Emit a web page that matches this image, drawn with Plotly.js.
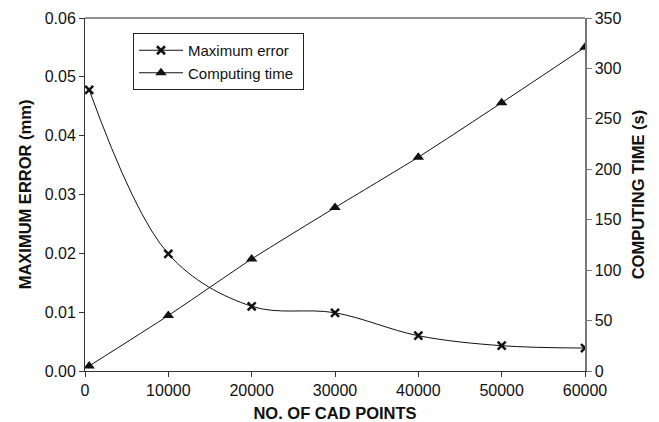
<!DOCTYPE html>
<html>
<head>
<meta charset="utf-8">
<script src="https://cdn.plot.ly/plotly-3.0.1.min.js"></script>
<style>html,body{margin:0;padding:0;background:#fff;}#chart{width:659px;height:422px;}</style>
</head>
<body>
<div id="chart"></div>
<script>
const cadPoints = [500, 10000, 20000, 30000, 40000, 50000, 60000];
const maxError = [0.0478, 0.0199, 0.0110, 0.0099, 0.0060, 0.0043, 0.0039];
const computingTime = [5, 55, 111, 162, 212, 266, 321];
const xTicks = [0, 10000, 20000, 30000, 40000, 50000, 60000];
const errTicks = [0, 0.01, 0.02, 0.03, 0.04, 0.05, 0.06];
const timeTicks = [0, 50, 100, 150, 200, 250, 300, 350];

const font = "Liberation Sans, Arial, sans-serif";
const traces = [
  {
    x: cadPoints, y: maxError, name: "Maximum error&nbsp;&nbsp;", type: "scatter", mode: "lines+markers",
    line: {color: "#111", width: 1, shape: "spline", smoothing: 1},
    marker: {symbol: "x-thin-open", size: 8, color: "#111", line: {color: "#111", width: 2.5}},
    yaxis: "y"
  },
  {
    x: cadPoints, y: computingTime, name: "Computing time", type: "scatter", mode: "lines+markers",
    line: {color: "#111", width: 1, shape: "spline", smoothing: 0.6},
    marker: {symbol: "triangle-up", size: 10, color: "#111"},
    yaxis: "y2"
  }
];

const layout = {
  width: 659, height: 422,
  margin: {l: 85, r: 74, t: 18, b: 51},
  paper_bgcolor: "#fff", plot_bgcolor: "#fff",
  font: {family: font, size: 15, color: "#111"},
  showlegend: true,
  legend: {
    x: 0.096, y: 0.9575, xanchor: "left", yanchor: "top",
    bordercolor: "#222", borderwidth: 1, bgcolor: "#fff",
    font: {family: font, size: 15, color: "#111"},
    tracegroupgap: 0, itemwidth: 44
  },
  xaxis: {
    range: [0, 60000], tickvals: xTicks, ticktext: xTicks.map(String),
    showgrid: false, zeroline: false, showline: true, linecolor: "#333", linewidth: 1,
    ticks: "outside", ticklen: 5, tickcolor: "#333", mirror: false,
    tickfont: {family: font, size: 16, color: "#111"},
    title: {text: "<b>NO. OF CAD POINTS</b>", font: {family: font, size: 16.5, color: "#111"}, standoff: 9}
  },
  yaxis: {
    range: [0, 0.06], tickvals: errTicks, ticktext: errTicks.map(v => v.toFixed(2)),
    showgrid: false, zeroline: false, showline: true, linecolor: "#333", linewidth: 1,
    ticks: "outside", ticklen: 5, tickcolor: "#333",
    tickfont: {family: font, size: 16, color: "#111"},
    title: {text: "<b>MAXIMUM ERROR (mm)</b>", font: {family: font, size: 16.5, color: "#111"}, standoff: 8}
  },
  yaxis2: {
    range: [0, 350], tickvals: timeTicks, ticktext: timeTicks.map(String),
    overlaying: "y", side: "right",
    showgrid: false, zeroline: false, showline: true, linecolor: "#777", linewidth: 1.5,
    ticks: "outside", ticklen: 5, tickcolor: "#777",
    tickfont: {family: font, size: 16, color: "#111"},
    title: {text: "<b>COMPUTING TIME (s)</b>", font: {family: font, size: 16.5, color: "#111"}, standoff: 12}
  },
  shapes: [
    {type: "line", xref: "paper", yref: "paper", x0: 0, x1: 1, y0: 1, y1: 1, line: {color: "#222", width: 1}}
  ]
};

Plotly.newPlot("chart", traces, layout, {displayModeBar: false, staticPlot: true});
</script>
</body>
</html>
